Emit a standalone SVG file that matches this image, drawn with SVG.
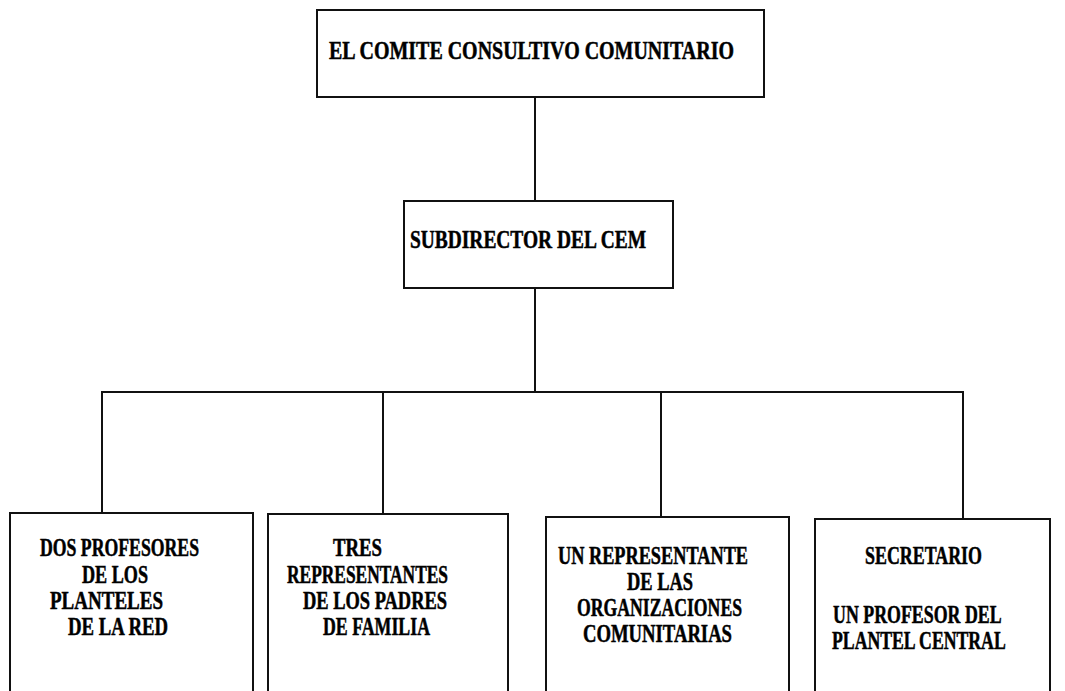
<svg xmlns="http://www.w3.org/2000/svg" width="1065" height="691" viewBox="0 0 1065 691">
<style>
.box{fill:#fff;stroke:#111;stroke-width:2}
.ln{stroke:#111;stroke-width:2;fill:none}
text{font-family:"Liberation Serif","Times New Roman",serif;font-weight:bold;font-size:25px;fill:#000;stroke:#000;stroke-width:0.5}
</style>
<rect width="1065" height="691" fill="#fff"/>
<g id="connectors">
<line class="ln" x1="535" y1="97" x2="535" y2="201"/>
<line class="ln" x1="535" y1="288" x2="535" y2="392"/>
<polyline class="ln" points="102,513 102,392 963,392 963,519"/>
<line class="ln" x1="383" y1="392" x2="383" y2="514"/>
<line class="ln" x1="661" y1="392" x2="661" y2="517"/>
</g>
<g id="node-comite">
<rect class="box" x="317" y="10" width="447" height="87"/>
<text x="329" y="59" textLength="405" lengthAdjust="spacingAndGlyphs" font-size="27">EL COMITE CONSULTIVO COMUNITARIO</text>
</g>
<g id="node-subdirector">
<rect class="box" x="404" y="201" width="269" height="87"/>
<text x="410" y="248" textLength="236" lengthAdjust="spacingAndGlyphs" font-size="26">SUBDIRECTOR DEL CEM</text>
</g>
<g id="node-profesores">
<rect class="box" x="10" y="513" width="243" height="182"/>
<text x="40" y="556" textLength="159" lengthAdjust="spacingAndGlyphs">DOS PROFESORES</text>
<text x="82" y="583" textLength="66" lengthAdjust="spacingAndGlyphs">DE LOS</text>
<text x="50" y="609" textLength="113" lengthAdjust="spacingAndGlyphs">PLANTELES</text>
<text x="68" y="635" textLength="100" lengthAdjust="spacingAndGlyphs">DE LA RED</text>
</g>
<g id="node-padres">
<rect class="box" x="268" y="514" width="240" height="181"/>
<text x="333" y="556" textLength="49" lengthAdjust="spacingAndGlyphs">TRES</text>
<text x="287" y="583" textLength="161" lengthAdjust="spacingAndGlyphs">REPRESENTANTES</text>
<text x="303" y="609" textLength="144" lengthAdjust="spacingAndGlyphs">DE LOS PADRES</text>
<text x="323" y="635" textLength="107" lengthAdjust="spacingAndGlyphs">DE FAMILIA</text>
</g>
<g id="node-organizaciones">
<rect class="box" x="546" y="517" width="243" height="178"/>
<text x="558" y="564" textLength="190" lengthAdjust="spacingAndGlyphs">UN REPRESENTANTE</text>
<text x="627" y="590" textLength="66" lengthAdjust="spacingAndGlyphs">DE LAS</text>
<text x="577" y="616" textLength="165" lengthAdjust="spacingAndGlyphs">ORGANIZACIONES</text>
<text x="583" y="642" textLength="149" lengthAdjust="spacingAndGlyphs">COMUNITARIAS</text>
</g>
<g id="node-secretario">
<rect class="box" x="815" y="519" width="235" height="176"/>
<text x="865" y="564" textLength="117" lengthAdjust="spacingAndGlyphs">SECRETARIO</text>
<text transform="translate(833,623) scale(0.714,1)">UN PROFESOR DEL</text>
<text transform="translate(832,649) scale(0.709,1)">PLANTEL CENTRAL</text>
</g>
</svg>
